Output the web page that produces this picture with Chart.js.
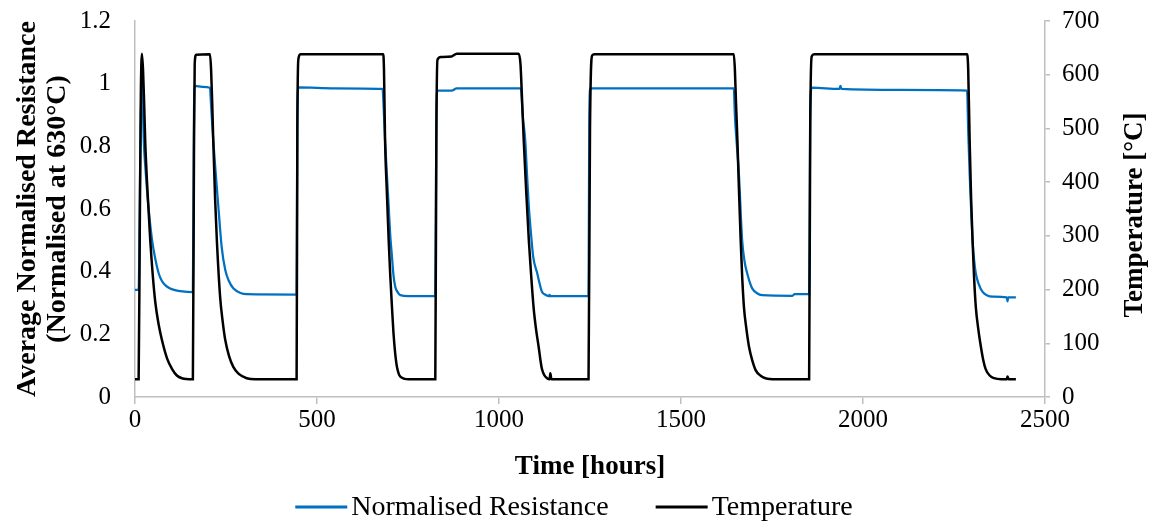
<!DOCTYPE html>
<html>
<head>
<meta charset="utf-8">
<script src="https://cdn.jsdelivr.net/npm/chart.js@4.4.1/dist/chart.umd.min.js"></script>
<style>
  html, body { margin: 0; padding: 0; background: #ffffff; }
  #wrap { width: 1157px; height: 522px; }
</style>
</head>
<body>
<div id="wrap"><canvas id="c" width="1157" height="522"></canvas></div>
<script>
// ---- Data ----
const xTicks = [0, 500, 1000, 1500, 2000, 2500];
const resistanceTicks = [0, 0.2, 0.4, 0.6, 0.8, 1, 1.2];
const temperatureTicks = [0, 100, 200, 300, 400, 500, 600, 700];

const seriesNames = ["Normalised Resistance", "Temperature"];
const xTitle = "Time [hours]";
const yTitle = ["Average Normalised Resistance", "(Normalised at 630°C)"];
const y2Title = "Temperature [°C]";

// Normalised resistance: time [hours] and value
const resistanceTime = [
  0, 10, 13, 16, 19, 21, 24, 28, 33, 40, 47, 55, 65, 74, 83, 95, 110, 130, 157,
  159, 162, 164, 185, 206,
  209, 215, 222, 229, 238, 248, 258, 270, 290, 307, 442,
  444, 446, 449, 550, 680,
  684, 687, 692, 697, 701, 706, 710, 715, 722, 729, 751, 823,
  825, 828, 831, 870, 884, 1060,
  1065, 1072, 1077, 1082, 1088, 1094, 1105, 1112, 1118, 1130, 1137, 1139, 1141, 1244,
  1246, 1248, 1251, 1645,
  1648, 1653, 1659, 1668, 1675, 1682, 1689, 1696, 1708, 1723, 1806, 1812, 1850,
  1852, 1855, 1859, 1935, 1938, 1941, 2100, 2286,
  2289, 2293, 2297, 2301, 2305, 2310, 2318, 2328, 2340, 2356, 2395, 2397, 2399, 2420
];
const resistanceValue = [
  0.342, 0.342, 0.6, 0.9, 1.0, 0.96, 0.82, 0.74, 0.66, 0.57, 0.5, 0.445, 0.395, 0.37, 0.357, 0.347, 0.341, 0.337, 0.335,
  0.335, 0.9, 0.993, 0.99, 0.987,
  0.93, 0.82, 0.71, 0.607, 0.48, 0.405, 0.37, 0.347, 0.332, 0.328, 0.327,
  0.327, 0.9, 0.988, 0.985, 0.983,
  0.9, 0.82, 0.71, 0.607, 0.52, 0.447, 0.39, 0.352, 0.334, 0.325, 0.322, 0.322,
  0.322, 0.9, 0.978, 0.978, 0.985, 0.985,
  0.9, 0.82, 0.71, 0.607, 0.52, 0.447, 0.395, 0.36, 0.336, 0.325, 0.322, 0.326, 0.322, 0.322,
  0.322, 0.9, 0.985, 0.985,
  0.9, 0.81, 0.713, 0.5, 0.43, 0.394, 0.366, 0.346, 0.332, 0.325, 0.323, 0.328, 0.328,
  0.328, 0.9, 0.987, 0.983, 0.993, 0.983, 0.98, 0.978,
  0.85, 0.713, 0.6, 0.5, 0.44, 0.394, 0.36, 0.336, 0.325, 0.32, 0.318, 0.305, 0.318, 0.318
];

// Temperature: time [hours] and value [°C]
const temperatureTime = [
  0, 10, 13, 16, 19, 22, 25, 28, 35, 42, 49, 56, 65, 74, 88, 102, 115, 129, 157,
  159, 162, 164, 168, 206,
  209, 212, 215, 220, 225, 234, 241, 248, 258, 270, 285, 307, 330, 442,
  444, 446, 449, 455, 682,
  684, 687, 692, 697, 701, 706, 710, 715, 720, 729, 752, 823,
  825, 828, 831, 840, 870, 884, 1054,
  1059, 1063, 1068, 1075, 1082, 1088, 1095, 1102, 1109, 1114, 1118, 1125, 1132, 1139, 1141, 1144, 1244,
  1246, 1250, 1256, 1262, 1645,
  1648, 1651, 1655, 1659, 1664, 1668, 1673, 1680, 1687, 1695, 1705, 1718, 1732, 1760, 1850,
  1852, 1855, 1859, 1866, 2286,
  2289, 2293, 2297, 2301, 2305, 2310, 2317, 2324, 2330, 2337, 2348, 2360, 2380, 2395, 2397, 2400, 2420
];
const temperatureValue = [
  33, 33, 300, 560, 639, 610, 550, 477, 375, 291, 225, 175, 135, 106, 72, 52, 40, 35, 33,
  33, 450, 620, 637, 638,
  610, 550, 477, 370, 290, 185, 140, 106, 77, 56, 43, 35, 33, 33,
  33, 500, 630, 638, 638,
  610, 477, 380, 291, 230, 167, 120, 80, 55, 38, 33, 33,
  33, 500, 628, 633, 634, 639, 639,
  620, 560, 477, 380, 291, 230, 167, 125, 93, 68, 52, 40, 35, 33, 44, 33, 33,
  33, 500, 636, 638, 638,
  610, 550, 477, 390, 291, 225, 167, 125, 93, 70, 50, 40, 35, 33, 33,
  33, 500, 634, 638, 638,
  610, 477, 370, 291, 225, 167, 125, 93, 70, 52, 40, 35, 33, 33, 38, 33, 33
];

const toPoints = (xs, ys) => xs.map((x, i) => ({ x: x, y: ys[i] }));

const serif = "'Liberation Serif', 'Times New Roman', serif";
const axisGray = '#bfbfbf';

// Custom legend + right-axis title (rotated bottom-to-top like the reference)
const decorPlugin = {
  id: 'decor',
  afterDraw(chart) {
    const ctx = chart.ctx;
    const area = chart.chartArea;
    ctx.save();
    ctx.fillStyle = '#000000';
    ctx.font = "bold 27px " + serif;
    ctx.textAlign = 'center';
    ctx.textBaseline = 'middle';
    ctx.translate(1135, (area.top + area.bottom) / 2 + 6);
    ctx.rotate(-Math.PI / 2);
    ctx.fillText(y2Title, 0, 0);
    ctx.restore();

    ctx.save();
    ctx.font = "28px " + serif;
    ctx.textBaseline = 'middle';
    ctx.textAlign = 'left';
    const lineW = 52, gapText = 4, gapItem = 47, y = 507;
    const items = chart.data.datasets.map(ds => ({ label: ds.label, color: ds.borderColor }));
    let total = 0;
    items.forEach((it, i) => {
      it.w = ctx.measureText(it.label).width;
      total += lineW + gapText + it.w + (i < items.length - 1 ? gapItem : 0);
    });
    let x = 574 - total / 2;
    items.forEach(it => {
      ctx.strokeStyle = it.color;
      ctx.lineWidth = 3;
      ctx.beginPath();
      ctx.moveTo(x, y);
      ctx.lineTo(x + lineW, y);
      ctx.stroke();
      x += lineW + gapText;
      ctx.fillStyle = '#000000';
      ctx.fillText(it.label, x, y + 1);
      x += it.w + gapItem;
    });
    ctx.restore();
  }
};

new Chart(document.getElementById('c'), {
  type: 'line',
  data: {
    datasets: [
      {
        label: seriesNames[0],
        data: toPoints(resistanceTime, resistanceValue),
        yAxisID: 'y',
        borderColor: '#0070C0',
        backgroundColor: '#0070C0',
        borderWidth: 2.25,
        pointRadius: 0,
        cubicInterpolationMode: 'monotone',
        order: 1
      },
      {
        label: seriesNames[1],
        data: toPoints(temperatureTime, temperatureValue),
        yAxisID: 'y2',
        borderColor: '#000000',
        backgroundColor: '#000000',
        borderWidth: 2.5,
        pointRadius: 0,
        cubicInterpolationMode: 'monotone',
        order: 0
      }
    ]
  },
  plugins: [decorPlugin],
  options: {
    responsive: false,
    animation: false,
    devicePixelRatio: 1,
    layout: { padding: { top: 21, left: 0, right: 0, bottom: 36 } },
    plugins: {
      tooltip: { enabled: false },
      legend: { display: false }
    },
    scales: {
      x: {
        type: 'linear',
        min: 0,
        max: 2500,
        afterBuildTicks: (scale) => { scale.ticks = xTicks.map(v => ({ value: v })); },
        afterFit: (scale) => { scale.height = 89; },
        ticks: {
          color: '#000000',
          padding: 1,
          font: { family: serif, size: 25 },
          callback: (v) => String(v)
        },
        grid: { drawOnChartArea: false, drawTicks: true, tickLength: 7, color: axisGray, lineWidth: 1.5 },
        border: { display: true, color: axisGray, width: 1.5 },
        title: {
          display: true,
          text: xTitle,
          color: '#000000',
          padding: { top: 0, bottom: 3 },
          font: { family: serif, size: 27, weight: 'bold', lineHeight: 1.2 }
        }
      },
      y: {
        position: 'left',
        min: 0,
        max: 1.2,
        afterBuildTicks: (scale) => { scale.ticks = resistanceTicks.map(v => ({ value: v })); },
        afterFit: (scale) => { scale.width = 135; scale.paddingTop = 0; scale.paddingBottom = 0; },
        ticks: {
          color: '#000000',
          padding: 24,
          font: { family: serif, size: 25 },
          callback: (v) => String(Math.round(v * 10) / 10)
        },
        grid: { display: true, drawOnChartArea: false, drawTicks: false },
        border: { display: true, color: axisGray, width: 1.5 },
        title: {
          display: true,
          text: yTitle,
          color: '#000000',
          padding: { top: 12, bottom: 0 },
          font: { family: serif, size: 28, weight: 'bold', lineHeight: 1.1 }
        }
      },
      y2: {
        position: 'right',
        min: 0,
        max: 700,
        afterBuildTicks: (scale) => { scale.ticks = temperatureTicks.map(v => ({ value: v })); },
        afterFit: (scale) => { scale.width = 112; scale.paddingTop = 0; scale.paddingBottom = 0; },
        ticks: {
          color: '#000000',
          padding: 12,
          font: { family: serif, size: 25 },
          callback: (v) => String(v)
        },
        grid: { drawOnChartArea: false, drawTicks: true, tickLength: 5, color: axisGray, lineWidth: 1.5 },
        border: { display: true, color: axisGray, width: 1.5 },
        title: { display: false }
      }
    }
  }
});
</script>
</body>
</html>
